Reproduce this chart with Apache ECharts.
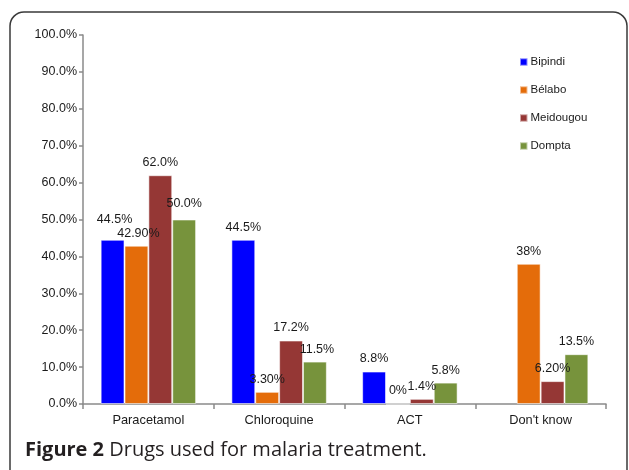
<!DOCTYPE html>
<html>
<head>
<meta charset="utf-8">
<script src="https://cdn.jsdelivr.net/npm/echarts@6/dist/echarts.min.js"></script>
<style>
html,body{margin:0;padding:0;background:#fff;}
#c{width:629px;height:470px;}
</style>
</head>
<body>
<div id="c"></div>
<script>
var categories = ['Paracetamol', 'Chloroquine', 'ACT', "Don't know"];
var seriesNames = ['Bipindi', 'Bélabo', 'Meidougou', 'Dompta'];
var bipindi = [44.5, 44.5, 8.8, null];
var belabo = [42.9, 3.3, 0, 38];
var meidougou = [62.0, 17.2, 1.4, 6.2];
var dompta = [50.0, 11.5, 5.8, 13.5];
var bipindiLabels = ['44.5%', '44.5%', '8.8%', ''];
var belaboLabels = ['42.90%', '3.30%', '0%', '38%'];
var meidougouLabels = ['62.0%', '17.2%', '1.4%', '6.20%'];
var domptaLabels = ['50.0%', '11.5%', '5.8%', '13.5%'];
var yTicks = [0, 10, 20, 30, 40, 50, 60, 70, 80, 90, 100];
var caption = ['Figure 2', ' Drugs used for malaria treatment.'];

var colors = ['#0000FF', '#E46C0A', '#953735', '#77933C'];
var values = [bipindi, belabo, meidougou, dompta];
var labels = [bipindiLabels, belaboLabels, meidougouLabels, domptaLabels];
// per-label nudges (series index, category index) -> [dx, dy]
var nudges = {'0-0': [2, -8], '1-0': [2, 0], '3-0': [0, -3], '3-1': [2, 0]};
var FONT = 'Liberation Sans, Arial, sans-serif';

var series = values.map(function (vals, si) {
  return {
    name: seriesNames[si],
    type: 'bar',
    barGap: '0%',
    barCategoryGap: '27%',
    itemStyle: {color: colors[si], borderColor: 'rgba(255,255,255,0.55)', borderWidth: 1},
    data: vals.map(function (v, ci) {
      var item = {value: v};
      var lbl = labels[si][ci];
      item.label = {
        show: v !== null && lbl !== '',
        position: 'top',
        distance: 6,
        formatter: lbl,
        offset: nudges[si + '-' + ci] || [0, 0]
      };
      return item;
    }),
    label: {color: '#1a1a1a', fontSize: 12.5, fontFamily: FONT}
  };
});

var chart = echarts.init(document.getElementById('c'), null, {renderer: 'canvas'});
chart.setOption({
  animation: false,
  backgroundColor: '#fff',
  color: colors,
  grid: {left: 83, right: 23, top: 35, bottom: 66},
  legend: {
    orient: 'vertical',
    left: 514,
    top: 50,
    icon: 'rect',
    itemWidth: 7.5,
    itemHeight: 7.5,
    itemGap: 14,
    data: seriesNames,
    textStyle: {fontSize: 11.5, color: '#1a1a1a', fontFamily: FONT, lineHeight: 14, padding: [0, 0, 0, -2]}
  },
  xAxis: {
    type: 'category',
    data: categories,
    axisLine: {lineStyle: {color: '#8a8a8a', width: 1.5}},
    axisTick: {show: true, length: 5, lineStyle: {color: '#8a8a8a', width: 1.5}},
    axisLabel: {fontSize: 12.8, color: '#1a1a1a', margin: 10, fontFamily: FONT}
  },
  yAxis: {
    type: 'value',
    min: yTicks[0],
    max: yTicks[yTicks.length - 1],
    interval: yTicks[1] - yTicks[0],
    splitLine: {show: false},
    axisLine: {show: true, lineStyle: {color: '#8a8a8a', width: 1.5}},
    axisTick: {show: true, length: 4, lineStyle: {color: '#8a8a8a', width: 1.5}},
    axisLabel: {
      fontSize: 12.5, color: '#1a1a1a', margin: 6, fontFamily: FONT,
      formatter: function (v) { return v.toFixed(1) + '%'; }
    }
  },
  series: series,
  graphic: [
    {
      type: 'rect',
      shape: {x: 10, y: 12, width: 617, height: 520, r: 14},
      style: {fill: 'none', stroke: '#3a3a3a', lineWidth: 1.5},
      silent: true
    },
    {
      type: 'text',
      left: 25,
      top: 440,
      style: {
        rich: {
          b: {fontSize: 20, fontWeight: 'bold', fill: '#231f20', fontFamily: 'Open Sans, Noto Sans, sans-serif'},
          r: {fontSize: 20, fill: '#231f20', fontFamily: 'Open Sans, Noto Sans, sans-serif'}
        },
        text: '{b|' + caption[0] + '}{r|' + caption[1] + '}'
      }
    }
  ]
});
</script>
</body>
</html>
